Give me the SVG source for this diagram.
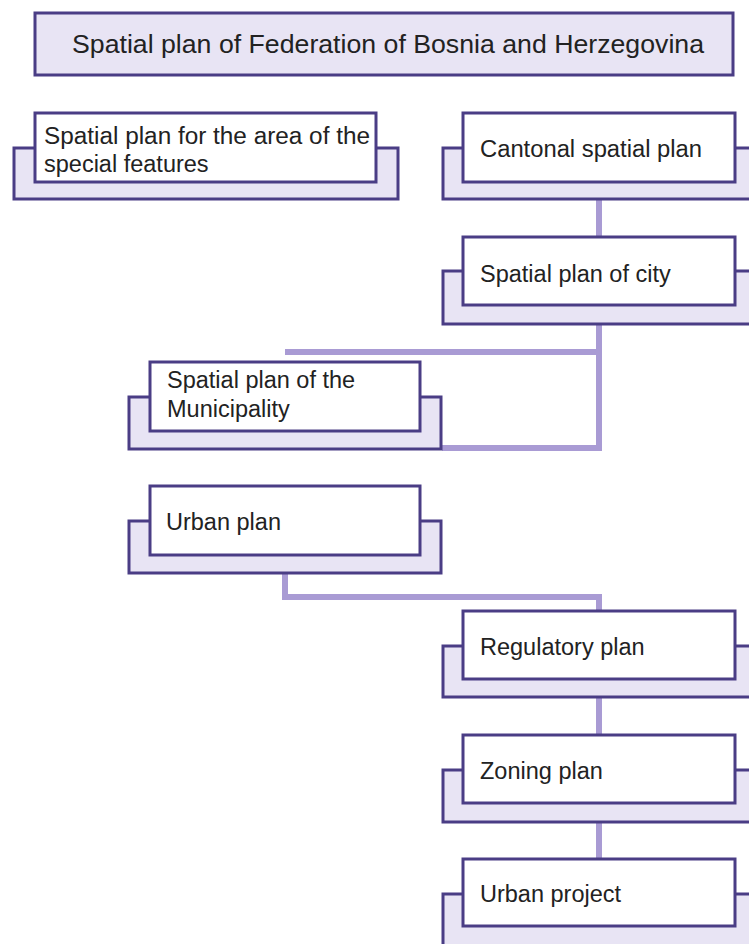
<svg xmlns="http://www.w3.org/2000/svg" width="749" height="944" viewBox="0 0 749 944">
<style>
.back{fill:#E8E4F4;stroke:#4A3D85;stroke-width:3}
.front{fill:#FFFFFF;stroke:#4A3D85;stroke-width:3}
.title{fill:#E8E4F4;stroke:#4A3D85;stroke-width:3}
.conn{fill:none;stroke:#A99BD4;stroke-width:6;stroke-linejoin:miter;stroke-linecap:butt}
text{font-family:"Liberation Sans",Arial,sans-serif;fill:#222222;font-size:23.5px}
.tt{font-size:26.5px}
</style>
<rect width="749" height="944" fill="#FFFFFF"/>
<g id="connectors">
<path class="conn" d="M599,199 V237"/>
<path class="conn" d="M599,324 V448 H442"/>
<path class="conn" d="M285,352 H602"/>
<path class="conn" d="M285,573 V597 H599 V611"/>
<path class="conn" d="M599,697 V735"/>
<path class="conn" d="M599,822 V859"/>
</g>
<g id="title">
<rect class="title" x="35" y="13" width="698" height="62"/>
<text class="tt" x="72" y="53" textLength="632" lengthAdjust="spacingAndGlyphs">Spatial plan of Federation of Bosnia and Herzegovina</text>
</g>
<g id="special">
<rect class="back" x="14" y="148" width="384" height="51"/>
<rect class="front" x="35" y="113" width="341" height="69"/>
<text x="44" y="144" textLength="326" lengthAdjust="spacingAndGlyphs">Spatial plan for the area of the</text>
<text x="44" y="172">special features</text>
</g>
<g id="cantonal">
<rect class="back" x="443" y="148" width="312" height="51"/>
<rect class="front" x="463" y="113" width="272" height="69"/>
<text x="480" y="157" textLength="222" lengthAdjust="spacingAndGlyphs">Cantonal spatial plan</text>
</g>
<g id="city">
<rect class="back" x="443" y="271" width="312" height="53"/>
<rect class="front" x="463" y="237" width="272" height="68"/>
<text x="480" y="282">Spatial plan of city</text>
</g>
<g id="municipality">
<rect class="back" x="129" y="397" width="312" height="52"/>
<rect class="front" x="150" y="362" width="270" height="69"/>
<text x="167" y="388">Spatial plan of the</text>
<text x="167" y="417">Municipality</text>
</g>
<g id="urban-plan">
<rect class="back" x="129" y="521" width="312" height="52"/>
<rect class="front" x="150" y="486" width="270" height="69"/>
<text x="166" y="530">Urban plan</text>
</g>
<g id="regulatory">
<rect class="back" x="443" y="646" width="312" height="51"/>
<rect class="front" x="463" y="611" width="272" height="68"/>
<text x="480" y="655">Regulatory plan</text>
</g>
<g id="zoning">
<rect class="back" x="443" y="770" width="312" height="52"/>
<rect class="front" x="463" y="735" width="272" height="68"/>
<text x="480" y="779">Zoning plan</text>
</g>
<g id="urban-project">
<rect class="back" x="443" y="894" width="312" height="70"/>
<rect class="front" x="463" y="859" width="272" height="67"/>
<text x="480" y="902">Urban project</text>
</g>
</svg>
